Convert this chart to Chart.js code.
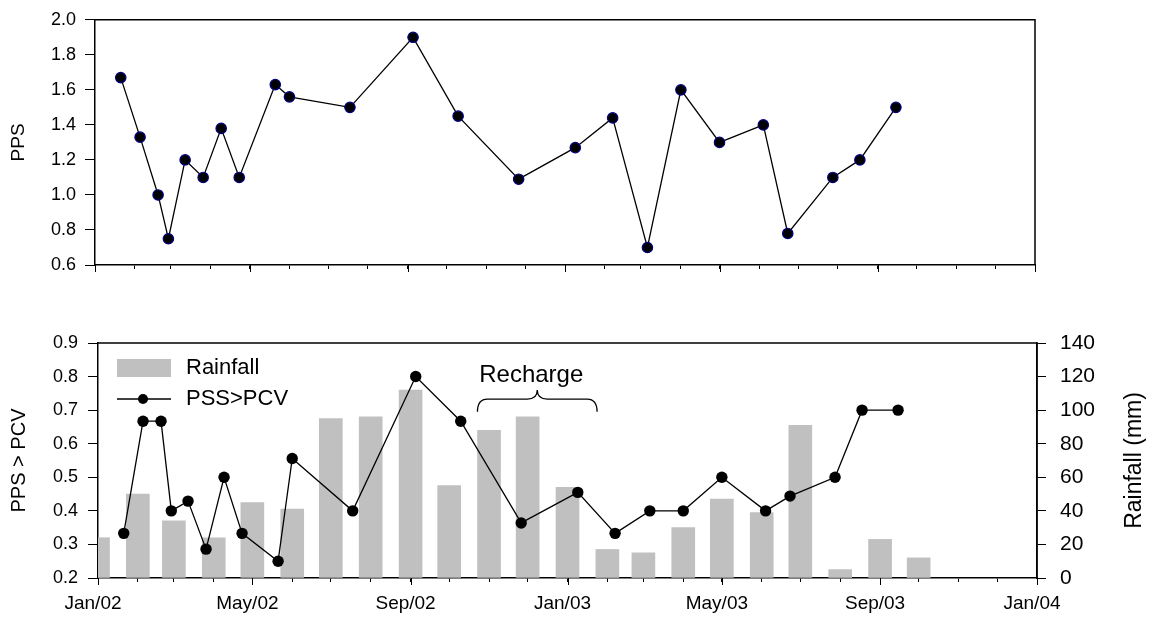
<!DOCTYPE html>
<html>
<head>
<meta charset="utf-8">
<title>PPS and PSS>PCV</title>
<script src="https://cdn.jsdelivr.net/npm/chart.js@4.4.1/dist/chart.umd.min.js"></script>
<style>
  html, body { margin: 0; padding: 0; background: #fff; }
  #wrap { position: relative; width: 1157px; height: 621px; }
  #wrap canvas { position: absolute; left: 0; }
  #ppsChart { top: 0; }
  #ratioChart { top: 300px; }
</style>
</head>
<body>
<div id="wrap">
  <canvas id="ppsChart" width="1157" height="300"></canvas>
  <canvas id="ratioChart" width="1157" height="321"></canvas>
</div>
<script>
// sampling dates (shared by both panels)
const sampleDates = [
  '2002-01-21', '2002-02-05', '2002-02-19', '2002-02-27', '2002-03-12', '2002-03-26',
  '2002-04-09', '2002-04-23', '2002-05-21', '2002-06-01', '2002-07-18', '2002-09-05',
  '2002-10-10', '2002-11-26', '2003-01-09', '2003-02-07', '2003-03-06', '2003-04-01',
  '2003-05-01', '2003-06-04', '2003-06-23', '2003-07-28', '2003-08-18', '2003-09-15'
];
const ppsValues = [
  1.67, 1.33, 1.0, 0.75, 1.2, 1.1, 1.38, 1.1, 1.63, 1.56, 1.5, 1.9,
  1.45, 1.09, 1.27, 1.44, 0.7, 1.6, 1.3, 1.4, 0.78, 1.1, 1.2, 1.5
];
const pssPcvValues = [
  0.333, 0.667, 0.667, 0.4, 0.429, 0.286, 0.5, 0.333, 0.25, 0.556, 0.4, 0.8,
  0.667, 0.364, 0.455, 0.333, 0.4, 0.4, 0.5, 0.4, 0.444, 0.5, 0.7, 0.7
];

// monthly rainfall (mm)
const rainMonths = [
  '2002-01', '2002-02', '2002-03', '2002-04', '2002-05', '2002-06', '2002-07', '2002-08',
  '2002-09', '2002-10', '2002-11', '2002-12', '2003-01', '2003-02', '2003-03', '2003-04',
  '2003-05', '2003-06', '2003-07', '2003-08', '2003-09', '2003-10'
];
const rainfallMm = [24, 50, 34, 24, 45, 41, 95, 96, 112, 55, 88, 96, 54, 17, 15, 30, 47, 39, 91, 5, 23, 12];

const xTickLabels = ['Jan/02', 'May/02', 'Sep/02', 'Jan/03', 'May/03', 'Sep/03', 'Jan/04'];

const FONT = '"Liberation Sans", Arial, sans-serif';
const ORIGIN = Date.UTC(2002, 0, 1);
const DAY = 86400000;

// days since Jan 1 2002
function dayOf(str) {
  const [y, m, d] = str.split('-').map(Number);
  return (Date.UTC(y, m - 1, d || 1) - ORIGIN) / DAY;
}

// one tick at the start of every month, Jan/02 .. Jan/04
const monthTicks = [];
for (let i = 0; i <= 24; i++) monthTicks.push((Date.UTC(2002, i, 1) - ORIGIN) / DAY);

function timeAxis(showLabels, height) {
  return {
    type: 'linear',
    min: 0,
    max: monthTicks[monthTicks.length - 1],
    offset: false,
    afterBuildTicks: (s) => { s.ticks = monthTicks.map(v => ({ value: v })); },
    afterFit: (s) => { s.height = height; },
    border: { color: '#000', width: 1.5 },
    grid: { drawOnChartArea: false, offset: false, tickLength: 4, color: '#000', lineWidth: 1 },
    ticks: {
      autoSkip: false, maxRotation: 0, minRotation: 0, padding: 10, labelOffset: -5,
      color: '#000', font: { family: FONT, size: 19 },
      callback: (v, i) => (showLabels && i % 4 === 0 ? xTickLabels[i / 4] : '')
    }
  };
}

// longer tick every 4 months
const majorTicks = {
  id: 'majorTicks',
  afterDraw(chart) {
    const s = chart.scales.x, ctx = chart.ctx;
    ctx.save();
    ctx.strokeStyle = '#000';
    ctx.lineWidth = 1;
    monthTicks.forEach((v, i) => {
      if (i % 4) return;
      const px = Math.round(s.getPixelForValue(v)) + 0.5;
      ctx.beginPath();
      ctx.moveTo(px, s.top);
      ctx.lineTo(px, s.top + 7);
      ctx.stroke();
    });
    ctx.restore();
  }
};

// top and right edges of the plot box
const frame = {
  id: 'frame',
  afterDraw(chart) {
    const { left, right, top, bottom } = chart.chartArea, ctx = chart.ctx;
    ctx.save();
    ctx.strokeStyle = '#000';
    ctx.lineWidth = 1.5;
    ctx.beginPath();
    ctx.moveTo(left, top);
    ctx.lineTo(right, top);
    ctx.lineTo(right, bottom);
    ctx.stroke();
    ctx.restore();
  }
};

// ---------- top panel: PPS ----------
new Chart(document.getElementById('ppsChart'), {
  type: 'line',
  data: {
    datasets: [{
      label: 'PPS',
      data: sampleDates.map((d, i) => ({ x: dayOf(d), y: ppsValues[i] })),
      borderColor: '#000',
      borderWidth: 1.3,
      pointRadius: 5.2,
      pointBackgroundColor: '#000',
      pointBorderColor: '#000080',
      pointBorderWidth: 1.2,
      tension: 0
    }]
  },
  options: {
    responsive: false,
    animation: false,
    layout: { padding: { left: 0, right: 122, top: 14, bottom: 0 } },
    plugins: { legend: { display: false }, tooltip: { enabled: false } },
    scales: {
      x: timeAxis(false, 35),
      y: {
        min: 0.6,
        max: 2.0,
        afterFit: (s) => { s.width = 95; },
        border: { color: '#000', width: 1.5 },
        grid: { drawOnChartArea: false, tickLength: 10, color: '#000', lineWidth: 1 },
        ticks: {
          stepSize: 0.2, padding: 9, color: '#000',
          font: { family: FONT, size: 18 },
          callback: (v) => v.toFixed(1)
        },
        title: {
          display: true, text: 'PPS', color: '#000',
          font: { family: FONT, size: 19 }, padding: { top: 7, bottom: 0 }
        }
      }
    }
  },
  plugins: [majorTicks, frame]
});

// ---------- bottom panel: rainfall + PSS>PCV ----------
const rechargeNote = { text: 'Recharge', from: '2002-10-23', to: '2003-01-24', textY: 0.785, braceLow: 0.695, braceMid: 0.733, bracePeak: 0.76 };

const recharge = {
  id: 'recharge',
  afterDatasetsDraw(chart) {
    const x = chart.scales.x, y = chart.scales.y, ctx = chart.ctx;
    const x0 = x.getPixelForValue(dayOf(rechargeNote.from));
    const x1 = x.getPixelForValue(dayOf(rechargeNote.to));
    const xm = (x0 + x1) / 2;
    const yl = y.getPixelForValue(rechargeNote.braceLow);
    const yb = y.getPixelForValue(rechargeNote.braceMid);
    const yp = y.getPixelForValue(rechargeNote.bracePeak);
    const r = 10;
    ctx.save();
    ctx.strokeStyle = '#000';
    ctx.lineWidth = 1.3;
    ctx.beginPath();
    ctx.moveTo(x0, yl);
    ctx.quadraticCurveTo(x0, yb, x0 + r, yb);
    ctx.lineTo(xm - r, yb);
    ctx.quadraticCurveTo(xm, yb, xm, yp);
    ctx.quadraticCurveTo(xm, yb, xm + r, yb);
    ctx.lineTo(x1 - r, yb);
    ctx.quadraticCurveTo(x1, yb, x1, yl);
    ctx.stroke();
    ctx.fillStyle = '#000';
    ctx.font = '24px ' + FONT;
    ctx.textAlign = 'center';
    ctx.textBaseline = 'alphabetic';
    ctx.fillText(rechargeNote.text, xm - 6, y.getPixelForValue(rechargeNote.textY));
    ctx.restore();
  }
};

// legend drawn inside the plot, top-left
const insideLegend = {
  id: 'insideLegend',
  afterDraw(chart) {
    const { left, top } = chart.chartArea, ctx = chart.ctx;
    const [line, bars] = chart.data.datasets;
    ctx.save();
    ctx.fillStyle = bars.backgroundColor;
    ctx.fillRect(left + 19, top + 16, 54, 18);
    ctx.strokeStyle = line.borderColor;
    ctx.lineWidth = 1.3;
    ctx.beginPath();
    ctx.moveTo(left + 19, top + 56);
    ctx.lineTo(left + 73, top + 56);
    ctx.stroke();
    ctx.fillStyle = line.pointBackgroundColor;
    ctx.beginPath();
    ctx.arc(left + 45, top + 56, 5, 0, Math.PI * 2);
    ctx.fill();
    ctx.fillStyle = '#000';
    ctx.font = '22px ' + FONT;
    ctx.textAlign = 'left';
    ctx.textBaseline = 'middle';
    ctx.fillText(bars.label, left + 88, top + 25);
    ctx.fillText(line.label, left + 88, top + 56);
    ctx.restore();
  }
};

// right axis title, reading bottom to top
const rightTitle = {
  id: 'rightTitle',
  afterDraw(chart) {
    const s = chart.scales.y2, ctx = chart.ctx;
    ctx.save();
    ctx.translate(s.right - 22, (s.top + s.bottom) / 2);
    ctx.rotate(-Math.PI / 2);
    ctx.fillStyle = '#000';
    ctx.font = '23px ' + FONT;
    ctx.textAlign = 'center';
    ctx.textBaseline = 'middle';
    ctx.fillText('Rainfall (mm)', 0, 0);
    ctx.restore();
  }
};

new Chart(document.getElementById('ratioChart'), {
  type: 'line',
  data: {
    datasets: [
      {
        type: 'line',
        label: 'PSS>PCV',
        data: sampleDates.map((d, i) => ({ x: dayOf(d), y: pssPcvValues[i] })),
        yAxisID: 'y',
        borderColor: '#000',
        borderWidth: 1.3,
        pointRadius: 5.7,
        pointBackgroundColor: '#000',
        pointBorderColor: '#000',
        pointBorderWidth: 0,
        tension: 0,
        order: 0
      },
      {
        type: 'bar',
        label: 'Rainfall',
        data: rainMonths.map((m, i) => ({ x: dayOf(m), y: rainfallMm[i] })),
        yAxisID: 'y2',
        backgroundColor: '#c0c0c0',
        borderWidth: 0,
        barThickness: 23,
        order: 1
      }
    ]
  },
  options: {
    responsive: false,
    animation: false,
    layout: { padding: { left: 0, right: 0, top: 43, bottom: 0 } },
    plugins: { legend: { display: false }, tooltip: { enabled: false } },
    scales: {
      x: timeAxis(true, 43),
      y: {
        position: 'left',
        min: 0.2,
        max: 0.9,
        afterFit: (s) => { s.width = 98; },
        border: { color: '#000', width: 1.5 },
        grid: { drawOnChartArea: false, tickLength: 10, color: '#000', lineWidth: 1 },
        ticks: {
          stepSize: 0.1, padding: 10, color: '#000',
          font: { family: FONT, size: 18 },
          callback: (v) => v.toFixed(1)
        },
        title: {
          display: true, text: 'PPS > PCV', color: '#000',
          font: { family: FONT, size: 20 }, padding: { top: 7, bottom: 0 }
        }
      },
      y2: {
        position: 'right',
        min: 0,
        max: 140,
        afterFit: (s) => { s.width = 120; },
        border: { color: '#000', width: 1.5 },
        grid: { drawOnChartArea: false, tickLength: 9, color: '#000', lineWidth: 1 },
        ticks: {
          stepSize: 20, padding: 14, color: '#000',
          font: { family: FONT, size: 21 }
        }
      }
    }
  },
  plugins: [majorTicks, frame, recharge, insideLegend, rightTitle]
});
</script>
</body>
</html>
